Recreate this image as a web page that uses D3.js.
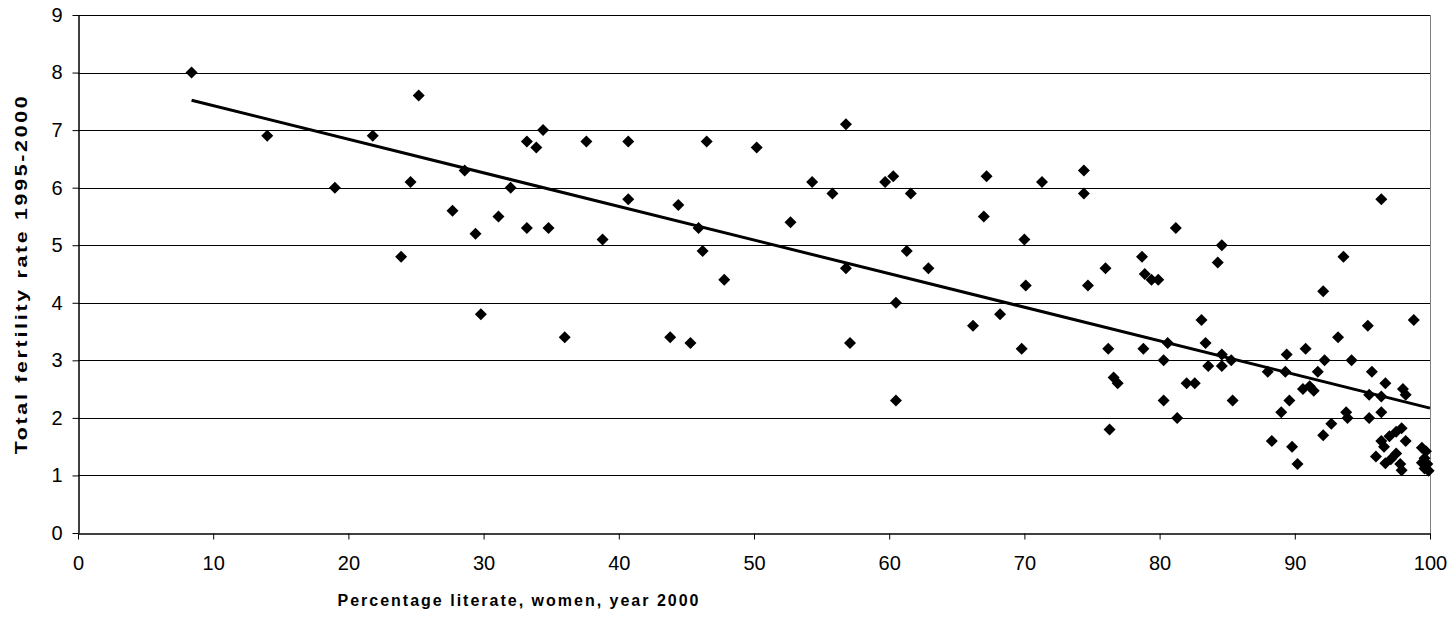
<!DOCTYPE html>
<html>
<head>
<meta charset="utf-8">
<script src="https://cdn.jsdelivr.net/npm/d3@7"></script>
<style>
body { margin: 0; background: #fff; }
text { font-family: Arial, "Liberation Sans", sans-serif; }
</style>
</head>
<body>
<script>
// women's literacy (%) and total fertility rate, one entry per country
const literacy = [
  8.4, 14.0, 19.0, 21.8, 23.9, 24.6, 25.2, 27.7, 28.6, 29.4, 29.8, 31.1, 32.0, 33.2, 33.2,
  33.9, 34.4, 34.8, 36.0, 37.6, 38.8, 40.7, 40.7, 43.8, 44.4, 45.3, 45.9, 46.2, 46.5, 47.8,
  50.2, 52.7, 54.3, 55.8, 56.8, 56.8, 57.1, 59.7, 60.3, 60.5, 60.5, 61.3, 61.6, 62.9, 66.2,
  67.0, 67.2, 68.2, 69.8, 70.0, 70.1, 71.3, 74.4, 74.4, 74.7, 76.0, 76.2, 76.3, 76.6, 76.9,
  78.7, 78.8, 78.9, 79.4, 79.9, 80.3, 80.3, 80.6, 81.2, 81.3, 82.0, 82.6, 83.1, 83.4, 83.6,
  84.3, 84.6, 84.6, 84.6, 85.3, 85.4, 88.0, 88.3, 89.0, 89.3, 89.4, 89.6, 89.8, 90.2, 90.6,
  90.8, 91.1, 91.4, 91.7, 92.1, 92.1, 92.2, 92.7, 93.2, 93.6, 93.8, 93.9, 94.2, 95.4, 95.5,
  95.5, 95.7, 96.0, 96.4, 96.4, 96.4, 96.4, 96.6, 96.7, 96.7, 97.0, 97.5, 97.9, 97.1, 97.5,
  97.8, 97.9, 98.0, 98.2, 98.2, 98.8, 99.4, 99.7, 99.6, 99.4, 99.8, 99.6, 99.9
];
const fertility = [
  8.0, 6.9, 6.0, 6.9, 4.8, 6.1, 7.6, 5.6, 6.3, 5.2, 3.8, 5.5, 6.0, 6.8, 5.3,
  6.7, 7.0, 5.3, 3.4, 6.8, 5.1, 6.8, 5.8, 3.4, 5.7, 3.3, 5.3, 4.9, 6.8, 4.4,
  6.7, 5.4, 6.1, 5.9, 7.1, 4.6, 3.3, 6.1, 6.2, 4.0, 2.3, 4.9, 5.9, 4.6, 3.6,
  5.5, 6.2, 3.8, 3.2, 5.1, 4.3, 6.1, 6.3, 5.9, 4.3, 4.6, 3.2, 1.8, 2.7, 2.6,
  4.8, 3.2, 4.5, 4.4, 4.4, 3.0, 2.3, 3.3, 5.3, 2.0, 2.6, 2.6, 3.7, 3.3, 2.9,
  4.7, 5.0, 3.1, 2.9, 3.0, 2.3, 2.8, 1.6, 2.1, 2.8, 3.1, 2.3, 1.5, 1.2, 2.5,
  3.2, 2.55, 2.47, 2.8, 4.2, 1.7, 3.0, 1.9, 3.4, 4.8, 2.1, 2.0, 3.0, 3.6, 2.4,
  2.0, 2.8, 1.33, 5.8, 2.37, 2.1, 1.6, 1.5, 2.6, 1.21, 1.68, 1.76, 1.82, 1.28, 1.38,
  1.2, 1.09, 2.5, 2.4, 1.6, 3.7, 1.48, 1.42, 1.3, 1.22, 1.2, 1.12, 1.08
];
const xTicks = [0, 10, 20, 30, 40, 50, 60, 70, 80, 90, 100];
const yTicks = [0, 1, 2, 3, 4, 5, 6, 7, 8, 9];
// linear trend line, end points
const trendX = [8.4, 100];
const trendY = [7.52, 2.17];

const width = 1453, height = 624;
const svg = d3.select("body").append("svg").attr("width", width).attr("height", height);

const x = d3.scaleLinear().domain([0, 100]).range([78, 1430]);
const y = d3.scaleLinear().domain([0, 9]).range([533, 15]);

// horizontal gridlines
svg.append("g").selectAll("line")
    .data(yTicks.filter(d => d > 0)).enter()
    .append("line")
    .attr("x1", x(0)).attr("x2", x(100))
    .attr("y1", d => Math.round(y(d)) + 0.5)
    .attr("y2", d => Math.round(y(d)) + 0.5)
    .style("stroke", "#000")
    .style("stroke-width", 1);

// right border of plot area
svg.append("line")
    .attr("x1", x(100) + 0.5).attr("x2", x(100) + 0.5)
    .attr("y1", y(9)).attr("y2", y(0) + 6)
    .style("stroke", "#808080");

const xAxis = svg.append("g")
    .attr("transform", `translate(0,${Math.round(y(0)) + 0.5})`)
    .call(d3.axisBottom(x).tickValues(xTicks).tickSize(6).tickPadding(16).tickSizeOuter(0));

const yAxis = svg.append("g")
    .attr("transform", `translate(${Math.round(x(0)) + 0.5},0)`)
    .call(d3.axisLeft(y).tickValues(yTicks).tickSize(6).tickPadding(10).tickSizeOuter(0));

[xAxis, yAxis].forEach(g => {
    g.select(".domain").style("stroke", "#000").style("stroke-width", 1.5);
    g.selectAll(".tick line").style("stroke", "#000");
    g.selectAll(".tick text")
        .style("font-size", "20px")
        .style("fill", "#000")
        .style("font-family", "Arial, 'Liberation Sans', sans-serif");
});

// points
svg.append("g").selectAll("path")
    .data(literacy.map((d, i) => [d, fertility[i]])).enter()
    .append("path")
    .attr("d", "M0,-6L6,0L0,6L-6,0Z")
    .attr("transform", d => `translate(${x(d[0])},${y(d[1])})`)
    .style("fill", "#000");

// trend line
svg.append("path")
    .datum(trendX.map((d, i) => [d, trendY[i]]))
    .attr("d", d3.line().x(d => x(d[0])).y(d => y(d[1])))
    .style("fill", "none")
    .style("stroke", "#000")
    .style("stroke-width", 3);

svg.append("text")
    .attr("x", 519).attr("y", 606)
    .attr("text-anchor", "middle")
    .style("font-size", "16px")
    .style("font-weight", "bold")
    .style("letter-spacing", "2px")
    .text("Percentage literate, women, year 2000");

svg.append("text")
    .attr("transform", "translate(27,274) rotate(-90) scale(1.25,1)")
    .attr("text-anchor", "middle")
    .style("font-size", "17px")
    .style("font-weight", "bold")
    .style("letter-spacing", "2.2px")
    .text("Total fertility rate 1995-2000");
</script>
</body>
</html>
